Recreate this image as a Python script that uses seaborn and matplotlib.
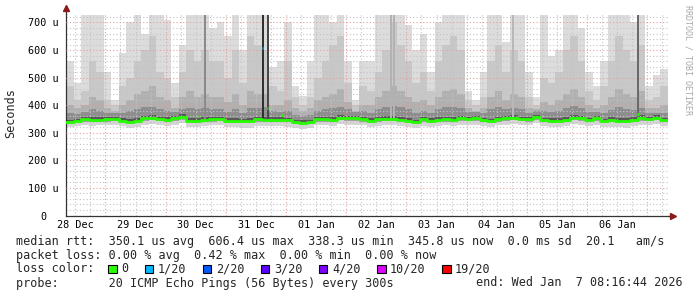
import numpy as np
import pandas as pd
import matplotlib
matplotlib.use("Agg")
import matplotlib.pyplot as plt
import matplotlib.dates as mdates
from matplotlib.patches import Rectangle
import seaborn as sns

# ---------------- data ----------------
t_start = "2025-12-28 08:16:44"
t_end = "2026-01-07 08:16:44"
step = "3h"

# distribution of the 20 pings per interval (values in microseconds)
rtt_max = [560, 480, 727, 727, 727, 520, 420, 590, 700, 727, 660, 727, 727, 710, 480, 620, 727, 727, 727, 680,
           700, 650, 727, 600, 727, 727, 727, 540, 560, 700, 470, 435, 560, 727, 727, 700, 727, 560, 420, 560,
           560, 727, 727, 727, 727, 690, 600, 660, 520, 700, 727, 727, 727, 450, 420, 520, 727, 727, 630, 727,
           727, 520, 430, 727, 580, 600, 727, 727, 680, 520, 470, 560, 727, 727, 727, 700, 727, 470, 510, 530]
rtt_p95 = [470, 420, 450, 560, 520, 420, 400, 470, 500, 560, 600, 650, 520, 500, 430, 520, 600, 560, 600, 560,
           560, 500, 600, 480, 650, 620, 600, 470, 450, 560, 430, 400, 430, 500, 560, 620, 650, 480, 400, 470,
           450, 520, 600, 700, 620, 560, 480, 520, 450, 560, 620, 650, 600, 420, 400, 430, 560, 620, 520, 600,
           560, 430, 400, 500, 480, 520, 600, 650, 560, 450, 420, 470, 560, 650, 600, 560, 620, 420, 430, 470]
rtt_p80 = [400, 390, 400, 430, 420, 390, 380, 400, 420, 440, 450, 470, 430, 420, 390, 430, 450, 430, 440, 430,
           430, 410, 440, 400, 450, 440, 440, 400, 400, 420, 390, 380, 390, 420, 430, 440, 460, 410, 380, 400,
           400, 430, 450, 470, 450, 430, 410, 420, 400, 430, 450, 460, 440, 390, 380, 390, 430, 450, 420, 440,
           430, 390, 385, 410, 400, 420, 440, 460, 430, 400, 390, 400, 430, 460, 440, 430, 450, 390, 390, 400]
rtt_p65 = [370, 368, 375, 385, 380, 372, 370, 372, 378, 385, 392, 395, 385, 378, 375, 385, 390, 385, 390, 385,
           385, 375, 385, 372, 390, 390, 395, 380, 375, 378, 365, 360, 365, 378, 385, 390, 395, 385, 375, 378,
           372, 385, 392, 398, 392, 385, 372, 380, 372, 385, 392, 395, 390, 375, 375, 372, 385, 392, 385, 390,
           385, 372, 378, 380, 375, 380, 390, 398, 390, 375, 375, 370, 382, 392, 388, 382, 390, 372, 372, 372]
rtt_p55 = [348, 350, 358, 357, 356, 357, 358, 352, 350, 354, 362, 364, 359, 356, 361, 367, 354, 352, 357, 358,
           359, 352, 354, 350, 352, 358, 357, 356, 356, 355, 348, 345, 348, 357, 358, 357, 364, 362, 361, 358,
           352, 358, 360, 361, 357, 353, 348, 358, 352, 356, 359, 357, 362, 358, 361, 355, 351, 358, 362, 364,
           359, 357, 366, 355, 352, 353, 357, 365, 362, 355, 361, 350, 356, 353, 353, 356, 363, 358, 363, 354]
rtt_median = [340, 342, 349, 347, 347, 349, 350, 344, 340, 344, 353, 355, 350, 347, 353, 358, 344, 342, 347, 349,
              350, 344, 344, 342, 342, 349, 347, 347, 347, 347, 340, 337, 340, 349, 349, 347, 355, 353, 353, 349,
              344, 349, 350, 350, 347, 344, 340, 349, 344, 347, 349, 347, 353, 350, 353, 347, 342, 349, 353, 355,
              350, 349, 358, 347, 344, 344, 347, 355, 353, 347, 353, 342, 347, 344, 344, 347, 353, 350, 355, 346]
rtt_p45 = [336, 338, 345, 343, 344, 345, 346, 340, 336, 340, 349, 351, 346, 343, 349, 354, 340, 338, 343, 345,
           346, 340, 340, 338, 338, 345, 343, 343, 343, 343, 336, 333, 336, 345, 345, 343, 351, 349, 349, 345,
           340, 345, 346, 346, 343, 340, 336, 345, 340, 343, 345, 343, 349, 346, 349, 343, 338, 345, 349, 351,
           346, 345, 354, 343, 340, 340, 343, 351, 349, 343, 349, 338, 343, 340, 340, 343, 349, 346, 351, 342]
rtt_low = [333, 335, 340, 338, 338, 340, 341, 336, 333, 336, 343, 345, 341, 338, 343, 347, 336, 334, 338, 340,
           341, 336, 336, 334, 334, 340, 338, 338, 338, 338, 332, 329, 332, 340, 340, 338, 345, 343, 343, 340,
           336, 340, 341, 341, 338, 336, 332, 340, 336, 338, 340, 338, 343, 341, 343, 338, 334, 340, 343, 345,
           341, 340, 347, 338, 336, 336, 338, 345, 343, 338, 343, 334, 338, 336, 336, 338, 343, 341, 345, 338]
rtt_min = [322, 325, 328, 326, 327, 328, 330, 324, 318, 322, 330, 332, 328, 325, 330, 335, 322, 320, 325, 328,
           328, 322, 322, 318, 316, 326, 325, 326, 325, 322, 318, 314, 318, 328, 328, 325, 332, 330, 330, 327,
           322, 326, 328, 328, 325, 322, 316, 326, 322, 325, 328, 325, 330, 328, 330, 325, 320, 327, 330, 332,
           328, 327, 335, 325, 322, 320, 325, 332, 330, 325, 330, 320, 322, 320, 318, 325, 330, 328, 332, 326]

# short intervals where all pings were high (dark smoke columns)
column_times = ["2025-12-30 15:29", "2025-12-31 14:17", "2025-12-31 16:16", "2026-01-02 17:27",
                "2026-01-02 18:50", "2026-01-04 18:04", "2026-01-06 20:00"]
column_base = [348, 347, 347, 350, 350, 349, 353]

# isolated median samples
spike_times = ["2025-12-30 12:22", "2025-12-31 14:17", "2025-12-31 16:16", "2025-12-31 22:00", "2026-01-06 20:00"]
spike_values = [362, 606, 390, 364, 368]
spike_loss = ["0", "1/20", "0", "0", "0"]

loss_labels = ["0", "1/20", "2/20", "3/20", "4/20", "10/20", "19/20"]
loss_colors = ["#26ff00", "#00b8ff", "#0059ff", "#5e00ff", "#7e00ff", "#dd00ff", "#ff0000"]

y_ticks = [0, 100, 200, 300, 400, 500, 600, 700]
day_labels = ["28 Dec", "29 Dec", "30 Dec", "31 Dec", "01 Jan", "02 Jan", "03 Jan", "04 Jan", "05 Jan", "06 Jan"]

median_avg, median_max, median_min, median_now, median_sd, am_s = 350.1, 606.4, 338.3, 345.8, 0.0, 20.1
loss_avg, loss_max, loss_min, loss_now = 0.00, 0.42, 0.00, 0.00
probe_text = "20 ICMP Echo Pings (56 Bytes) every 300s"
end_text = "end: Wed Jan  7 08:16:44 2026"

# ---------------- figure ----------------
sns.set_style("white")
plt.rcParams["font.family"] = ["DejaVu Sans Mono"]
MONO = 8.45
W, H = 697, 297

fig = plt.figure(figsize=(W / 100, H / 100), dpi=100)
ax_left, ax_right, ax_bot, ax_top = 66, 668, 215.5, 14.2
ax = fig.add_axes([ax_left / W, 1 - ax_bot / H, (ax_right - ax_left) / W, (ax_bot - ax_top) / H])

edges = pd.date_range(t_start, periods=len(rtt_median) + 1, freq=step)
x = mdates.date2num(edges.to_pydatetime())


def ext(a):
    a = np.asarray(a, dtype=float)
    return np.append(a, a[-1])


bands = [
    (rtt_min, rtt_low, "#d6d6d6"),
    (rtt_low, rtt_p45, "#a2a2a2"),
    (rtt_p45, rtt_median, "#5c5c5c"),
    (rtt_median, rtt_p55, "#585858"),
    (rtt_p55, rtt_p65, "#8e8e8e"),
    (rtt_p65, rtt_p80, "#b0b0b0"),
    (rtt_p80, rtt_p95, "#c8c8c8"),
    (rtt_p95, rtt_max, "#dcdcdc"),
]
for lo, hi, c in bands:
    ax.fill_between(x, ext(lo), ext(hi), step="post", color=c, lw=0, zorder=1)

ax.set_xlim(x[0], x[-1])
ax.set_ylim(0, 730)

# grid
minor_col, major_col = "#c4c4c4", "#e4a0a0"
for t in pd.date_range("2025-12-28 12:00", t_end, freq="6h"):
    if t.hour != 0:
        ax.axvline(mdates.date2num(t), color=minor_col, lw=0.8, ls=(0, (1, 2)), zorder=2.5)
for t in pd.date_range("2025-12-29", t_end, freq="D"):
    ax.axvline(mdates.date2num(t), color=major_col, lw=0.8, ls=(0, (1, 2)), zorder=2.6)
for v in range(20, 730, 20):
    if v % 100:
        ax.axhline(v, color=minor_col, lw=0.8, ls=(0, (1, 2)), zorder=2.5)
for v in range(100, 730, 100):
    ax.axhline(v, color=major_col, lw=0.8, ls=(0, (1, 2)), zorder=2.6)

# dark columns (drawn above the grid)
col_x = mdates.date2num(pd.to_datetime(column_times).to_pydatetime())
col_colors = ["#8a8a8a", "#303030", "#484848", "#b2b2b2", "#b2b2b2", "#b8b8b8", "#6a6a6a"]
ax.bar(col_x, [727 - b for b in column_base], bottom=column_base, width=2 / 60.2,
       color=col_colors, lw=0, align="edge", zorder=3)

# median line
med_df = pd.DataFrame({"time": x, "rtt": ext(rtt_median)})
sns.lineplot(data=med_df, x="time", y="rtt", ax=ax, color=loss_colors[0], lw=2.0,
             drawstyle="steps-post", legend=False, zorder=4)

spike_x = mdates.date2num(pd.to_datetime(spike_times).to_pydatetime())
for sx, sv, sl in zip(spike_x, spike_values, spike_loss):
    ax.plot([sx, sx + 1.8 / 60.2], [sv, sv], color=loss_colors[loss_labels.index(sl)],
            lw=2.0, solid_capstyle="butt", zorder=5)

# axes styling
for s in ["top", "right"]:
    ax.spines[s].set_visible(False)
for s in ["left", "bottom"]:
    ax.spines[s].set_color("#333333")
    ax.spines[s].set_linewidth(0.9)
ax.set_xlabel("")
ax.set_ylabel("")

noon = pd.date_range("2025-12-28 12:00", periods=len(day_labels), freq="D")
ax.set_xticks(mdates.date2num(noon.to_pydatetime()))
ax.set_xticklabels(day_labels)
ax.set_yticks(y_ticks)
ax.set_yticklabels([("%d u" % v) if v else "0  " for v in y_ticks])
ax.tick_params(axis="x", length=0, pad=3.2, labelsize=7.3, colors="#000000")
ax.tick_params(axis="y", length=2, width=0.8, pad=3.0, labelsize=7.3, color="#444444", labelcolor="#000000")

# axis arrows
arrow_c = "#8b1a1a"
ax.plot([0, 0], [1, 1.03], transform=ax.transAxes, color="#333333", lw=0.9, clip_on=False)
ax.plot([0], [1.03], marker="^", ms=4, color=arrow_c, transform=ax.transAxes, clip_on=False)
ax.plot([1, 1.008], [0, 0], transform=ax.transAxes, color="#333333", lw=0.9, clip_on=False)
ax.plot([1.008], [0], marker=">", ms=4, color=arrow_c, transform=ax.transAxes, clip_on=False)


def px(xp, yp):
    return xp / W, 1 - yp / H


fig.text(*px(11, 113), "Seconds", rotation=90, ha="center", va="center", fontsize=MONO)
fig.text(*px(688, 60), "RRDTOOL / TOBI OETIKER", rotation=270, ha="center", va="center",
         fontsize=6.0, color="#a8a8a8")

line1 = ("median rtt:  %.1f us avg  %.1f us max  %.1f us min  %.1f us now  %.1f ms sd  %.1f   am/s"
         % (median_avg, median_max, median_min, median_now, median_sd, am_s))
line2 = ("packet loss: %.2f %% avg  %.2f %% max  %.2f %% min  %.2f %% now"
         % (loss_avg, loss_max, loss_min, loss_now))
fig.text(*px(16, 241), line1, ha="left", va="center", fontsize=MONO)
fig.text(*px(16, 255), line2, ha="left", va="center", fontsize=MONO)
fig.text(*px(16, 269), "loss color:", ha="left", va="center", fontsize=MONO)
bx = 108.0
for lab, col in zip(loss_labels, loss_colors):
    fig.patches.append(Rectangle(px(bx, 273), 8.5 / W, 8.5 / H, transform=fig.transFigure,
                                 facecolor=col, edgecolor="#000000", lw=0.8, figure=fig))
    fig.text(*px(bx + 13, 269), lab, ha="left", va="center", fontsize=MONO)
    bx += 29.8 + len(lab) * 7.06
fig.text(*px(16, 283), "probe:       " + probe_text, ha="left", va="center", fontsize=MONO)
fig.text(*px(683, 283), end_text, ha="right", va="center", fontsize=MONO)

fig.savefig("out.png", dpi=100)
